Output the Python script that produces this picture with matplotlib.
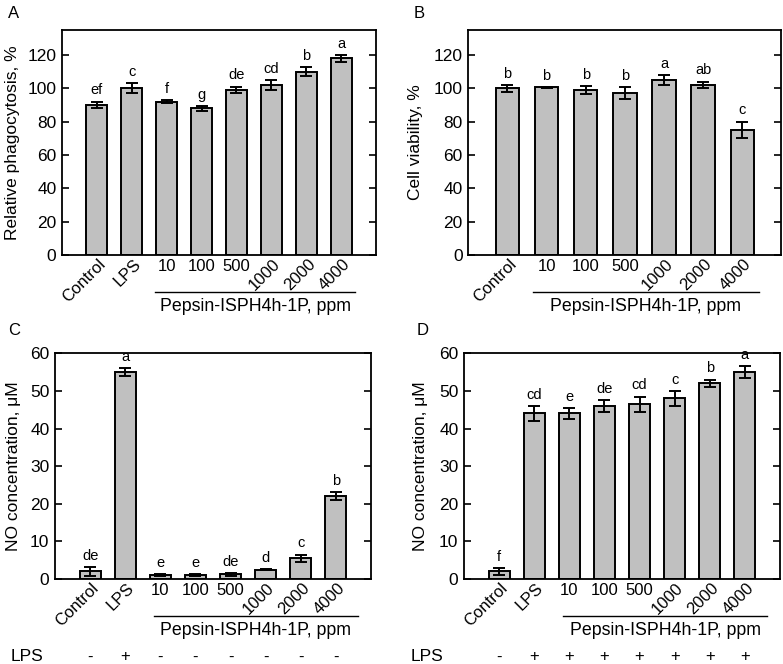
import matplotlib
matplotlib.use('Agg')
import matplotlib.pyplot as plt
import matplotlib.transforms as mtransforms
import numpy as np

plt.rcParams['font.family'] = ['Liberation Sans', 'DejaVu Sans']

# panel A - phagocytosis
a_labels = ['Control', 'LPS', '10', '100', '500', '1000', '2000', '4000']
a_values = [90, 100, 92, 88, 99, 102, 110, 118]
a_errors = [2, 3, 0.8, 1.5, 2, 3, 2.5, 2]
a_letters = ['ef', 'c', 'f', 'g', 'de', 'cd', 'b', 'a']

# panel B - cell viability
b_labels = ['Control', '10', '100', '500', '1000', '2000', '4000']
b_values = [100, 100.5, 99, 97, 105, 102, 75]
b_errors = [2, 0.3, 2.5, 3.5, 3, 2, 5]
b_letters = ['b', 'b', 'b', 'b', 'a', 'ab', 'c']

# panel C - NO, without LPS
c_labels = ['Control', 'LPS', '10', '100', '500', '1000', '2000', '4000']
c_values = [2, 55, 1, 1, 1.2, 2.5, 5.5, 22]
c_errors = [1.1, 1, 0.3, 0.2, 0.3, 0.2, 1, 1]
c_letters = ['de', 'a', 'e', 'e', 'de', 'd', 'c', 'b']
c_lps = ['-', '+', '-', '-', '-', '-', '-', '-']

# panel D - NO, with LPS
d_labels = ['Control', 'LPS', '10', '100', '500', '1000', '2000', '4000']
d_values = [2, 44, 44, 46, 46.5, 48, 52, 55]
d_errors = [1, 2, 1.5, 1.5, 2, 2, 1, 1.5]
d_letters = ['f', 'cd', 'e', 'de', 'cd', 'c', 'b', 'a']
d_lps = ['-', '+', '+', '+', '+', '+', '+', '+']

group_text = 'Pepsin-ISPH4h-1P, ppm'

fig = plt.figure(figsize=(7.83, 6.64), dpi=100)


def panel(rect, labels, values, errors, letters, ymax, ystep, ylabel,
          line_span, tag, tag_xy, ylabel_x, lps=None, lps_x=0):
    ax = fig.add_axes(rect)
    x = np.arange(len(values))
    ax.bar(x, values, width=0.6, color='#c0c0c0', edgecolor='black',
           linewidth=1.4, zorder=2)
    ax.errorbar(x, values, yerr=errors, fmt='none', ecolor='black',
                elinewidth=1.4, capsize=4, capthick=1.4, zorder=3)
    for xi, v, e, t in zip(x, values, errors, letters):
        ax.annotate(t, (xi, v + e), xytext=(0, 3), textcoords='offset points',
                    ha='center', va='bottom', fontsize=10.5)
    ax.set_xlim(-1, len(values))
    ax.set_ylim(0, ymax)
    ax.set_yticks(np.arange(0, ymax + 0.1, ystep))
    ax.tick_params(axis='y', direction='in', left=True, right=True,
                   length=5, width=1.2, labelsize=12.5, pad=4)
    ax.set_ylabel(ylabel, fontsize=12.5)
    ax.yaxis.set_label_coords(ylabel_x, 0.5)
    for s in ax.spines.values():
        s.set_linewidth(1.3)

    ax.set_xticks(x)
    ax.set_xticklabels(labels, fontsize=12)
    ax.tick_params(axis='x', length=0, pad=3)
    shift = mtransforms.ScaledTranslation(8.5 / 72, 2 / 72, fig.dpi_scale_trans)
    for lab in ax.get_xticklabels():
        if lab.get_text() in ('10', '100', '500'):
            continue
        lab.set_rotation(45)
        lab.set_ha('right')
        lab.set_transform(lab.get_transform() + shift)

    trans = mtransforms.blended_transform_factory(ax.transData, ax.transAxes)
    ax.plot(line_span, [-0.163, -0.163], color='black', lw=1.0,
            transform=trans, clip_on=False)
    ax.text(np.mean(line_span), -0.23, group_text, transform=trans,
            ha='center', va='center', fontsize=12.8)
    if lps is not None:
        for xi, s in zip(x, lps):
            ax.text(xi, -0.345, s, transform=trans, ha='center',
                    va='center', fontsize=12)
        ax.text(lps_x, -0.345, 'LPS', transform=ax.transAxes, ha='center',
                va='center', fontsize=12.5)
    fig.text(tag_xy[0], tag_xy[1], tag, fontsize=12, ha='left', va='center')
    return ax


panel([0.0792, 0.616, 0.401, 0.339], a_labels, a_values, a_errors, a_letters,
      135, 20, 'Relative phagocytosis, %', [1.67, 7.41], 'A',
      (0.010, 0.979), -0.134)
panel([0.598, 0.616, 0.400, 0.339], b_labels, b_values, b_errors, b_letters,
      135, 20, 'Cell viability, %', [0.66, 6.42], 'B',
      (0.528, 0.979), -0.144)
ax_c = panel([0.0702, 0.128, 0.4036, 0.340], c_labels, c_values, c_errors,
             c_letters, 60, 10, 'NO concentration, \u03bcM', [1.83, 7.62],
             'C', (0.010, 0.503), -0.108, lps=c_lps, lps_x=-0.089)
ax_d = panel([0.5926, 0.128, 0.4036, 0.340], d_labels, d_values, d_errors,
             d_letters, 60, 10, 'NO concentration, \u03bcM', [1.83, 7.64],
             'D', (0.532, 0.503), -0.114, lps=d_lps, lps_x=-0.117)

fig.savefig('out.png', dpi=100)
plt.close(fig)
